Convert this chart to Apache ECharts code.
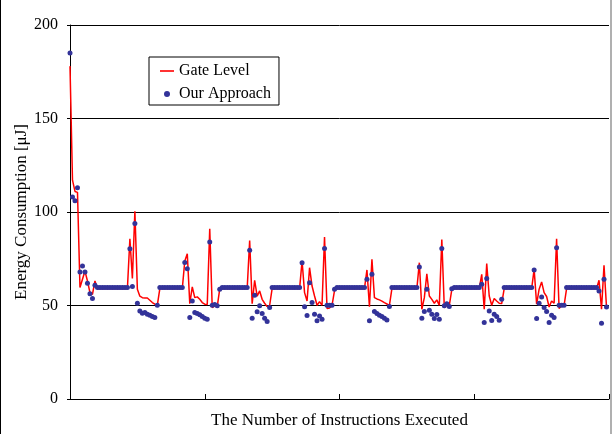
<!DOCTYPE html>
<html>
<head>
<meta charset="utf-8">
<script src="https://cdn.jsdelivr.net/npm/echarts@6/dist/echarts.min.js"></script>
<style>
html,body{margin:0;padding:0;background:#fff;}
#chart{width:613px;height:434px;}
</style>
</head>
<body>
<div id="chart"></div>
<script>
// Instruction index runs 0..215; x axis has 4 unlabeled divisions
const xMax = 216;
const xTickStep = 54;
const yTicks = [0, 50, 100, 150, 200];

// Gate Level (red line), energy in µJ
const gateLevel = [
178,117,111,110.5,59.6,64,68.4,63.1,56.9,56,63.1,
59,59,59,59,59,59,59,59,59,59,59,59,59,
85.7,64.4,100.4,58.7,55,54.2,54,54,52.8,51.6,50.7,50.2,
59,59,59,59,59,59,59,59,59,59,
73.8,77.7,51,60,54.2,54.6,53.3,51.6,50.7,50.5,91,48.9,49.8,49.4,58.7,
59,59,59,59,59,59,59,59,59,59,59,
84.8,51,63.5,55,57.8,53.3,51.2,49.4,50,
59,59,59,59,59,59,59,59,59,59,59,59,
73.8,56.9,52.4,70.2,60.4,55.1,50.1,52.1,50.1,86.6,48.4,48.7,50,58,
59,59,59,59,59,59,59,59,59,59,59,59,
69,49.4,74.7,54.2,53.5,53,52.3,51.5,50.8,50.1,
59,59,59,59,59,59,59,59,59,59,59,
72.9,48,54.2,67,55.1,53.3,51.2,53,50.1,85.3,48.9,50,50,58.5,
59,59,59,59,59,59,59,59,59,59,59,
66.7,48,72.4,55.1,50.1,53.7,52.4,51.2,51,
59,59,59,59,59,59,59,59,59,59,59,59,
69.3,50.7,58.7,62.6,56.9,54.8,49.2,52.4,51.2,85.7,48.4,50,50,
59,59,59,59,59,59,59,59,59,59,59,59,59,
63.5,48,71.5,49.2
];

// Our Approach (dots), energy in µJ
const ourApproach = [
185,108,106,113,67.9,71.1,67.9,61.9,56.3,53.7,60.8,
59.6,59.6,59.6,59.6,59.6,59.6,59.6,59.6,59.6,59.6,59.6,59.6,59.6,
80.4,60.1,93.9,51.2,47.1,45.9,46.2,45.3,44.8,44.1,43.6,50.1,
59.6,59.6,59.6,59.6,59.6,59.6,59.6,59.6,59.6,59.6,
73,69.7,43.6,52.4,46.2,45.7,45,44.1,43.2,42.7,83.9,50.1,50.5,49.8,58.7,
59.6,59.6,59.6,59.6,59.6,59.6,59.6,59.6,59.6,59.6,59.6,
79.6,43.2,55.5,46.6,49.8,45.7,43.2,41.4,48.9,
59.6,59.6,59.6,59.6,59.6,59.6,59.6,59.6,59.6,59.6,59.6,59.6,
72.9,49.3,44.6,62.2,51.6,45.3,41.8,44.4,42.7,80.5,50.1,50.1,50.1,58.7,
59.6,59.6,59.6,59.6,59.6,59.6,59.6,59.6,59.6,59.6,59.6,59.6,
64,41.8,66.7,46.8,45.7,44.8,44.1,43.2,42.3,49.4,
59.6,59.6,59.6,59.6,59.6,59.6,59.6,59.6,59.6,59.6,59.6,
70.6,43.2,46.8,58.7,47.5,45.3,43,45.2,42.7,80.5,49.8,51,49.4,59,
59.6,59.6,59.6,59.6,59.6,59.6,59.6,59.6,59.6,59.6,59.6,
61.3,40.9,64.5,47,42,45.3,44.1,42.1,53.3,
59.6,59.6,59.6,59.6,59.6,59.6,59.6,59.6,59.6,59.6,59.6,59.6,
69,43,51.2,54.6,48.9,46.8,40.9,44.8,43.6,80.9,50.1,50.1,50.1,
59.6,59.6,59.6,59.6,59.6,59.6,59.6,59.6,59.6,59.6,59.6,59.6,59.6,
57.8,40.5,64,49.2
];

const FONT = 'Liberation Serif, Times New Roman, serif';
const chart = echarts.init(document.getElementById('chart'), null, {renderer: 'canvas'});
chart.setOption({
  animation: false,
  backgroundColor: '#ffffff',
  grid: {left: 70, right: 4, top: 25, bottom: 34},
  legend: {
    orient: 'vertical',
    left: 149, top: 57,
    padding: [6, 8, 3, 11],
    itemGap: 7,
    itemWidth: 14, itemHeight: 6,
    symbolKeepAspect: true,
    borderColor: '#000', borderWidth: 1,
    backgroundColor: '#fff',
    textStyle: {fontFamily: FONT, fontSize: 16, color: '#000'},
    data: [
      {name: 'Gate Level', icon: 'path://M0,0L14,0L14,1.6L0,1.6Z'},
      {name: 'Our Approach', icon: 'circle'}
    ]
  },
  xAxis: {
    type: 'value', min: 0, max: xMax, interval: xTickStep,
    axisLine: {lineStyle: {color: '#000', width: 1}},
    axisTick: {inside: true, length: 5, lineStyle: {color: '#000'}},
    axisLabel: {show: false},
    splitLine: {show: false},
    name: 'The Number of Instructions Executed',
    nameLocation: 'middle', nameGap: 13,
    nameTextStyle: {fontFamily: FONT, fontSize: 17, color: '#000'}
  },
  yAxis: {
    type: 'value', min: yTicks[0], max: yTicks[yTicks.length - 1], interval: yTicks[1] - yTicks[0],
    axisLine: {show: true, lineStyle: {color: '#000', width: 1}},
    axisTick: {show: true, length: 3, lineStyle: {color: '#000'}},
    axisLabel: {fontFamily: FONT, fontSize: 16, color: '#000', margin: 12},
    splitLine: {show: true, lineStyle: {color: '#000', width: 1}},
    name: 'Energy Consumption [μJ]',
    nameLocation: 'middle', nameGap: 40, nameRotate: 90,
    nameMoveOverlap: false,
    nameTextStyle: {fontFamily: FONT, fontSize: 17, color: '#000'}
  },
  series: [
    {
      name: 'Gate Level', type: 'line', symbol: 'none', z: 2,
      lineStyle: {color: '#ff0000', width: 1.5},
      itemStyle: {color: '#ff0000'},
      data: gateLevel.map((v, i) => [i, v])
    },
    {
      name: 'Our Approach', type: 'scatter', symbol: 'circle', symbolSize: 5, z: 3,
      itemStyle: {color: '#333399', opacity: 1},
      data: ourApproach.map((v, i) => [i, v])
    }
  ],
  graphic: [
    {type: 'line', shape: {x1: 0.5, y1: 0, x2: 0.5, y2: 434}, style: {stroke: '#000', lineWidth: 1}, silent: true},
    {type: 'line', shape: {x1: 611, y1: 0, x2: 611, y2: 434}, style: {stroke: '#b0b0b0', lineWidth: 2}, silent: true}
  ]
});
</script>
</body>
</html>
